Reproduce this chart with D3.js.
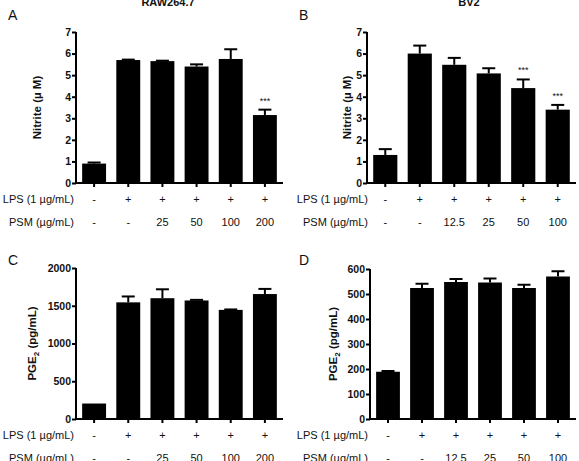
<!DOCTYPE html>
<html>
<head>
<meta charset="utf-8">
<script src="https://cdn.jsdelivr.net/npm/d3@7"></script>
<style>
  body { margin: 0; background: #fff; }
  svg { display: block; }
  text { font-family: Arial, "Liberation Sans", sans-serif; fill: #111; }
</style>
</head>
<body>
<div id="chart"></div>
<script>
// Data
var lpsRow = ['-', '+', '+', '+', '+', '+'];
var psmRaw = ['-', '-', '25', '50', '100', '200'];
var psmBv2 = ['-', '-', '12.5', '25', '50', '100'];

var nitriteRaw = [0.9, 5.7, 5.65, 5.4, 5.75, 3.15];
var nitriteRawErr = [0.05, 0.02, 0.02, 0.1, 0.45, 0.25];
var nitriteRawSig = ['', '', '', '', '', '***'];

var nitriteBv2 = [1.3, 6.0, 5.48, 5.08, 4.4, 3.4];
var nitriteBv2Err = [0.27, 0.37, 0.32, 0.24, 0.4, 0.22];
var nitriteBv2Sig = ['', '', '', '', '***', '***'];

var pgeRaw = [205, 1545, 1600, 1570, 1445, 1655];
var pgeRawErr = [0, 78, 118, 8, 6, 68];

var pgeBv2 = [189, 524, 548, 546, 524, 570];
var pgeBv2Err = [3, 17, 12, 16, 13, 21];

var width = 579, height = 461;

var svg = d3.select('#chart').append('svg')
    .attr('width', width)
    .attr('height', height);

/**
 * Draw one bar panel
 */
function drawPanel(p) {
    var g = svg.append('g');

    var x = d3.scaleBand()
        .domain(d3.range(p.values.length))
        .range([p.x0, p.x1])
        .paddingInner(0.3)
        .paddingOuter(0.18);

    var y = d3.scaleLinear()
        .domain([0, p.yMax])
        .range([p.yb, p.yt]);

    // bars
    g.selectAll('.bar')
        .data(p.values)
        .enter()
        .append('rect')
        .attr('class', 'bar')
        .attr('x', function(d, i) { return x(i); })
        .attr('y', function(d) { return y(d); })
        .attr('width', x.bandwidth())
        .attr('height', function(d) { return y(0) - y(d); })
        .attr('fill', '#000');

    // error bars (upper only)
    var capW = 13;
    p.errors.forEach(function(e, i) {
        if (e <= 0) return;
        var cx = x(i) + x.bandwidth() / 2;
        g.append('line')
            .attr('x1', cx).attr('x2', cx)
            .attr('y1', y(p.values[i])).attr('y2', y(p.values[i] + e))
            .attr('stroke', '#000').attr('stroke-width', 2);
        g.append('line')
            .attr('x1', cx - capW / 2).attr('x2', cx + capW / 2)
            .attr('y1', y(p.values[i] + e)).attr('y2', y(p.values[i] + e))
            .attr('stroke', '#000').attr('stroke-width', 2);
    });

    // significance stars
    if (p.sig) {
        p.sig.forEach(function(s, i) {
            if (!s) return;
            g.append('text')
                .attr('x', x(i) + x.bandwidth() / 2)
                .attr('y', y(p.values[i] + p.errors[i]) - 6)
                .attr('text-anchor', 'middle')
                .style('font-size', '9px')
                .text(s);
        });
    }

    // y axis
    var yAxis = g.append('g')
        .attr('transform', 'translate(' + p.x0 + ',0)')
        .call(d3.axisLeft(y).tickValues(p.ticks).tickSize(4).tickPadding(1).tickFormat(d3.format('d')));
    yAxis.select('.domain').attr('stroke-width', 2).attr('d', 'M0,' + (p.yb + 1) + 'V' + p.yt);
    yAxis.selectAll('.tick line').attr('stroke-width', 2);
    yAxis.selectAll('.tick text')
        .style('font-size', '10.5px')
        .style('font-weight', 'bold')
        .attr('fill', '#111');

    // x axis
    var xAxis = g.append('g')
        .attr('transform', 'translate(0,' + p.yb + ')')
        .call(d3.axisBottom(x).tickSize(4).tickFormat(''));
    xAxis.select('.domain').attr('stroke-width', 2).attr('d', 'M' + p.x0 + ',0H' + p.x1);
    xAxis.selectAll('.tick line').attr('stroke-width', 2);

    // y axis title
    var title = g.append('text')
        .attr('transform', 'translate(' + p.titleX + ',' + ((p.yb + p.yt) / 2) + ') rotate(-90)')
        .attr('text-anchor', 'middle')
        .style('font-size', '11.5px')
        .style('font-weight', 'bold');
    if (p.pge) {
        title.append('tspan').text('PGE');
        title.append('tspan').attr('dy', 3).style('font-size', '8px').text('2');
        title.append('tspan').attr('dy', -3).text(' (pg/mL)');
    } else {
        title.text('Nitrite (\u00b5 M)');
    }

    // panel letter
    g.append('text')
        .attr('x', p.letterX).attr('y', p.letterY)
        .style('font-size', '14px')
        .text(p.letter);

    // cell line title
    if (p.name) {
        g.append('text')
            .attr('x', p.nameX).attr('y', 6)
            .attr('text-anchor', 'middle')
            .style('font-size', '11px')
            .style('font-weight', 'bold')
            .text(p.name);
    }

    // treatment rows
    var rows = [
        { label: 'LPS (1 \u00b5g/mL)', vals: lpsRow, y: p.rowY[0] },
        { label: 'PSM (\u00b5g/mL)', vals: p.psm, y: p.rowY[1] }
    ];
    rows.forEach(function(r) {
        g.append('text')
            .attr('x', p.rowLabelX).attr('y', r.y)
            .attr('text-anchor', 'end')
            .style('font-size', '11px')
            .attr('fill', '#222')
            .text(r.label);
        g.selectAll(null)
            .data(r.vals)
            .enter()
            .append('text')
            .attr('x', function(d, i) { return x(i) + x.bandwidth() / 2; })
            .attr('y', r.y)
            .attr('text-anchor', 'middle')
            .style('font-size', '11px')
            .attr('fill', '#222')
            .text(function(d) { return d; });
    });
}

drawPanel({
    letter: 'A', letterX: 8, letterY: 20, name: 'RAW264.7', nameX: 168,
    values: nitriteRaw, errors: nitriteRawErr, sig: nitriteRawSig,
    x0: 76, x1: 283, yb: 183, yt: 32, yMax: 7, ticks: d3.range(0, 8),
    titleX: 41, psm: psmRaw, rowLabelX: 74, rowY: [203, 226]
});

drawPanel({
    letter: 'B', letterX: 299, letterY: 20, name: 'BV2', nameX: 469,
    values: nitriteBv2, errors: nitriteBv2Err, sig: nitriteBv2Sig,
    x0: 367, x1: 576, yb: 183, yt: 32, yMax: 7, ticks: d3.range(0, 8),
    titleX: 351, psm: psmBv2, rowLabelX: 368, rowY: [203, 226]
});

drawPanel({
    letter: 'C', letterX: 8, letterY: 265,
    values: pgeRaw, errors: pgeRawErr, pge: true,
    x0: 76, x1: 283, yb: 419, yt: 268, yMax: 2000, ticks: d3.range(0, 2001, 500),
    titleX: 36, psm: psmRaw, rowLabelX: 74, rowY: [439, 462]
});

drawPanel({
    letter: 'D', letterX: 299, letterY: 265,
    values: pgeBv2, errors: pgeBv2Err, pge: true,
    x0: 370, x1: 576, yb: 419, yt: 269, yMax: 600, ticks: d3.range(0, 601, 100),
    titleX: 337, psm: psmBv2, rowLabelX: 368, rowY: [439, 462]
});
</script>
</body>
</html>
